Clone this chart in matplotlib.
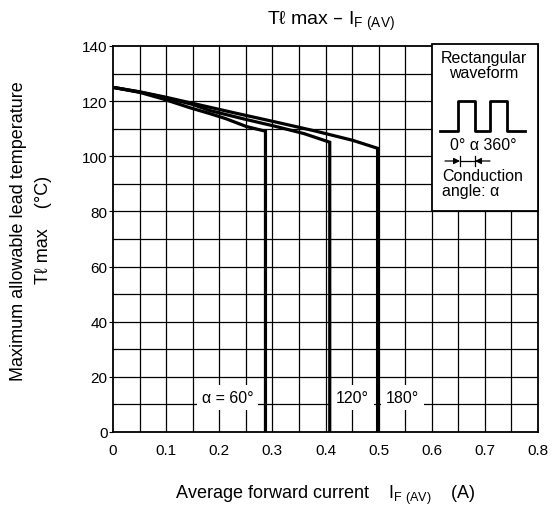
import numpy as np
import matplotlib
matplotlib.use("Agg")
import matplotlib.pyplot as plt
from matplotlib.patches import FancyArrowPatch, Rectangle

plt.rcParams['font.family'] = ['Liberation Sans', 'DejaVu Sans']
plt.rcParams['mathtext.default'] = 'regular'

# curves: Tl max vs IF(AV) for each conduction angle
x60 = [0, 0.05, 0.094, 0.145, 0.182, 0.213, 0.251, 0.287, 0.287]
t60 = [125, 123.2, 120.8, 117.6, 115.5, 113.6, 110.8, 109.1, 0]
x120 = [0, 0.05, 0.1, 0.15, 0.182, 0.245, 0.307, 0.36, 0.408, 0.408]
t120 = [125, 123.3, 121.2, 118.8, 116.6, 113.6, 110.8, 108.2, 105.1, 0]
x180 = [0, 0.05, 0.1, 0.15, 0.232, 0.307, 0.38, 0.451, 0.498, 0.498]
t180 = [125, 123.4, 121.4, 119.2, 115.6, 112.4, 109.2, 105.8, 102.9, 0]
labels = ['α = 60°', '120°', '180°']
label_x = [0.216, 0.451, 0.545]

xticks = [0, 0.1, 0.2, 0.3, 0.4, 0.5, 0.6, 0.7, 0.8]
xtick_labels = ['0', '0.1', '0.2', '0.3', '0.4', '0.5', '0.6', '0.7', '0.8']
yticks = [0, 20, 40, 60, 80, 100, 120, 140]

W, H = 555, 510
fig = plt.figure(figsize=(W / 100, H / 100), dpi=100)
ax = fig.add_axes([113 / W, 1 - 433 / H, 425 / W, 386 / H])

def px(x, y):
    return x / W, 1 - y / H

# grid every 0.05 / 10
for gx in np.arange(0.05, 0.8, 0.05):
    ax.axvline(gx, color='k', lw=0.9, zorder=1)
for gy in np.arange(10, 140, 10):
    ax.axhline(gy, color='k', lw=0.9, zorder=1)

for xs, ts in [(x60, t60), (x120, t120), (x180, t180)]:
    ax.plot(xs, ts, color='k', lw=2.3, zorder=4, solid_joinstyle='miter')

for lab, lx in zip(labels, label_x):
    ax.text(lx, 12.5, lab, ha='center', va='center', fontsize=11.5, zorder=3,
            bbox=dict(facecolor='white', edgecolor='none', pad=3.5))

ax.set_xlim(0, 0.8)
ax.set_ylim(0, 140)
ax.set_xticks(xticks)
ax.set_xticklabels(xtick_labels)
ax.set_yticks(yticks)
ax.tick_params(axis='both', labelsize=11, colors='k')
ax.tick_params(axis='x', length=0, pad=8)
ax.tick_params(axis='y', length=3, pad=1)
for s in ax.spines.values():
    s.set_linewidth(1.3)

# title and axis labels
fig.text(331 / W, 1 - 21 / H, r'Tℓ max – I$_{F\ (AV)}$', ha='center', va='center', fontsize=14)
fig.text(325 / W, 1 - 495 / H, r'Average forward current    I$_{F\ (AV)}$    (A)',
         ha='center', va='center', fontsize=13)
fig.text(19 / W, 1 - 231 / H, 'Maximum allowable lead temperature', rotation=90,
         ha='center', va='center', fontsize=13)
fig.text(43 / W, 1 - 230 / H, 'Tℓ max    (°C)', rotation=90,
         ha='center', va='center', fontsize=13)

# inset box with waveform sketch (box sits on x 0.6-0.8, y 80-top)
ax.add_patch(Rectangle((0.6, 80), 0.2, 60.7, facecolor='white', edgecolor='k',
                       lw=1.3, zorder=5, clip_on=False))
fig.text(484 / W, 1 - 66 / H, 'Rectangular\nwaveform', ha='center', va='center',
         fontsize=11.5, linespacing=0.95, zorder=6)
wx = [440, 458, 458, 475, 475, 490, 490, 507, 507, 525]
wy = [132, 132, 102, 102, 132, 132, 102, 102, 132, 132]
fig.add_artist(plt.Line2D([v / W for v in wx], [1 - v / H for v in wy],
                          transform=fig.transFigure, color='k', lw=2, zorder=6))
fig.text(483 / W, 1 - 146 / H, '0° α 360°', ha='center', va='center', fontsize=11.5, zorder=6)
for xa, xb in [(445, 460), (490, 475)]:
    fig.patches.append(FancyArrowPatch(px(xa, 162), px(xb, 162),
                       transform=fig.transFigure, arrowstyle='-|>', mutation_scale=9,
                       shrinkA=0, shrinkB=0, color='k', lw=0.9, zorder=6))
for xt in [460, 475]:
    fig.add_artist(plt.Line2D([xt / W] * 2, [1 - 157 / H, 1 - 167 / H],
                              transform=fig.transFigure, color='k', lw=0.9, zorder=6))
fig.add_artist(plt.Line2D([460 / W, 475 / W], [1 - 162 / H] * 2,
                          transform=fig.transFigure, color='k', lw=0.9, zorder=6))
fig.text(442 / W, 1 - 184 / H, 'Conduction\nangle: α', ha='left', va='center',
         fontsize=11.5, linespacing=0.95, zorder=6)

plt.savefig('out.png', dpi=100)
